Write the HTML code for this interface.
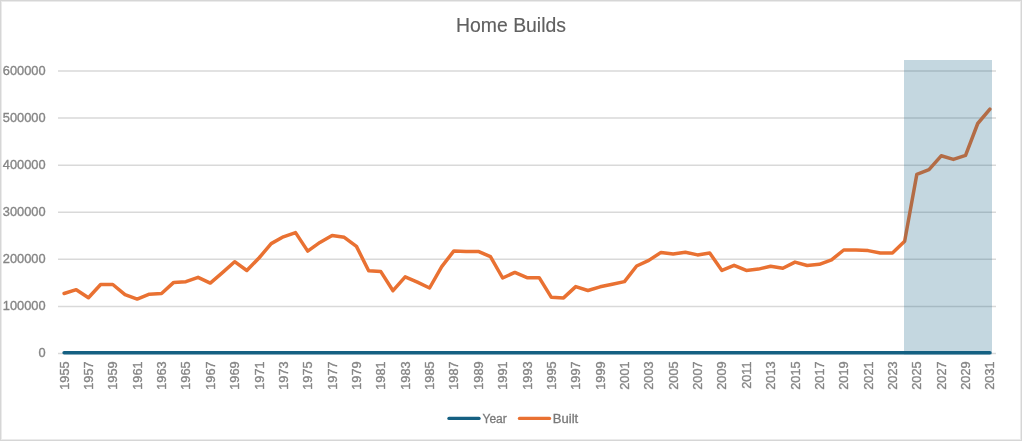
<!DOCTYPE html>
<html><head><meta charset="utf-8"><style>
html,body{margin:0;padding:0;background:#fff;}
body{width:1022px;height:441px;overflow:hidden;position:relative;font-family:"Liberation Sans",sans-serif;}
svg{position:absolute;left:0;top:0;will-change:transform;}
</style></head><body>
<svg width="1022" height="441" viewBox="0 0 1022 441">
<rect x="0" y="0" width="1022" height="441" fill="#fff"/>

<rect x="0.5" y="0.5" width="1021" height="440" fill="none" stroke="#D6D6D6" stroke-width="1"/>
<rect x="1.5" y="1.5" width="1019" height="438" fill="none" stroke="#EBEBEB" stroke-width="1"/>
<text x="511" y="32.4" text-anchor="middle" font-size="19.4" fill="#606060" stroke="#606060" stroke-width="0.15">Home Builds</text>
<line x1="58.0" x2="996.0" y1="353.5" y2="353.5" stroke="#D9D9D9" stroke-width="1.5"/>
<text x="45.5" y="357.2" text-anchor="end" font-size="12.8" fill="#858585" stroke="#858585" stroke-width="0.35">0</text>
<line x1="58.0" x2="996.0" y1="306.4166666666667" y2="306.4166666666667" stroke="#D9D9D9" stroke-width="1.5"/>
<text x="45.5" y="310.1" text-anchor="end" font-size="12.8" fill="#858585" stroke="#858585" stroke-width="0.35">100000</text>
<line x1="58.0" x2="996.0" y1="259.3333333333333" y2="259.3333333333333" stroke="#D9D9D9" stroke-width="1.5"/>
<text x="45.5" y="263.0" text-anchor="end" font-size="12.8" fill="#858585" stroke="#858585" stroke-width="0.35">200000</text>
<line x1="58.0" x2="996.0" y1="212.25" y2="212.25" stroke="#D9D9D9" stroke-width="1.5"/>
<text x="45.5" y="215.9" text-anchor="end" font-size="12.8" fill="#858585" stroke="#858585" stroke-width="0.35">300000</text>
<line x1="58.0" x2="996.0" y1="165.16666666666666" y2="165.16666666666666" stroke="#D9D9D9" stroke-width="1.5"/>
<text x="45.5" y="168.9" text-anchor="end" font-size="12.8" fill="#858585" stroke="#858585" stroke-width="0.35">400000</text>
<line x1="58.0" x2="996.0" y1="118.08333333333331" y2="118.08333333333331" stroke="#D9D9D9" stroke-width="1.5"/>
<text x="45.5" y="121.8" text-anchor="end" font-size="12.8" fill="#858585" stroke="#858585" stroke-width="0.35">500000</text>
<line x1="58.0" x2="996.0" y1="71.0" y2="71.0" stroke="#D9D9D9" stroke-width="1.5"/>
<text x="45.5" y="74.7" text-anchor="end" font-size="12.8" fill="#858585" stroke="#858585" stroke-width="0.35">600000</text>
<text transform="translate(68.59,361.5) rotate(-90)" text-anchor="end" font-size="12.7" fill="#858585" stroke="#858585" stroke-width="0.35">1955</text>
<text transform="translate(92.95,361.5) rotate(-90)" text-anchor="end" font-size="12.7" fill="#858585" stroke="#858585" stroke-width="0.35">1957</text>
<text transform="translate(117.32,361.5) rotate(-90)" text-anchor="end" font-size="12.7" fill="#858585" stroke="#858585" stroke-width="0.35">1959</text>
<text transform="translate(141.68,361.5) rotate(-90)" text-anchor="end" font-size="12.7" fill="#858585" stroke="#858585" stroke-width="0.35">1961</text>
<text transform="translate(166.05,361.5) rotate(-90)" text-anchor="end" font-size="12.7" fill="#858585" stroke="#858585" stroke-width="0.35">1963</text>
<text transform="translate(190.41,361.5) rotate(-90)" text-anchor="end" font-size="12.7" fill="#858585" stroke="#858585" stroke-width="0.35">1965</text>
<text transform="translate(214.77,361.5) rotate(-90)" text-anchor="end" font-size="12.7" fill="#858585" stroke="#858585" stroke-width="0.35">1967</text>
<text transform="translate(239.14,361.5) rotate(-90)" text-anchor="end" font-size="12.7" fill="#858585" stroke="#858585" stroke-width="0.35">1969</text>
<text transform="translate(263.50,361.5) rotate(-90)" text-anchor="end" font-size="12.7" fill="#858585" stroke="#858585" stroke-width="0.35">1971</text>
<text transform="translate(287.86,361.5) rotate(-90)" text-anchor="end" font-size="12.7" fill="#858585" stroke="#858585" stroke-width="0.35">1973</text>
<text transform="translate(312.23,361.5) rotate(-90)" text-anchor="end" font-size="12.7" fill="#858585" stroke="#858585" stroke-width="0.35">1975</text>
<text transform="translate(336.59,361.5) rotate(-90)" text-anchor="end" font-size="12.7" fill="#858585" stroke="#858585" stroke-width="0.35">1977</text>
<text transform="translate(360.95,361.5) rotate(-90)" text-anchor="end" font-size="12.7" fill="#858585" stroke="#858585" stroke-width="0.35">1979</text>
<text transform="translate(385.32,361.5) rotate(-90)" text-anchor="end" font-size="12.7" fill="#858585" stroke="#858585" stroke-width="0.35">1981</text>
<text transform="translate(409.68,361.5) rotate(-90)" text-anchor="end" font-size="12.7" fill="#858585" stroke="#858585" stroke-width="0.35">1983</text>
<text transform="translate(434.05,361.5) rotate(-90)" text-anchor="end" font-size="12.7" fill="#858585" stroke="#858585" stroke-width="0.35">1985</text>
<text transform="translate(458.41,361.5) rotate(-90)" text-anchor="end" font-size="12.7" fill="#858585" stroke="#858585" stroke-width="0.35">1987</text>
<text transform="translate(482.77,361.5) rotate(-90)" text-anchor="end" font-size="12.7" fill="#858585" stroke="#858585" stroke-width="0.35">1989</text>
<text transform="translate(507.14,361.5) rotate(-90)" text-anchor="end" font-size="12.7" fill="#858585" stroke="#858585" stroke-width="0.35">1991</text>
<text transform="translate(531.50,361.5) rotate(-90)" text-anchor="end" font-size="12.7" fill="#858585" stroke="#858585" stroke-width="0.35">1993</text>
<text transform="translate(555.86,361.5) rotate(-90)" text-anchor="end" font-size="12.7" fill="#858585" stroke="#858585" stroke-width="0.35">1995</text>
<text transform="translate(580.23,361.5) rotate(-90)" text-anchor="end" font-size="12.7" fill="#858585" stroke="#858585" stroke-width="0.35">1997</text>
<text transform="translate(604.59,361.5) rotate(-90)" text-anchor="end" font-size="12.7" fill="#858585" stroke="#858585" stroke-width="0.35">1999</text>
<text transform="translate(628.95,361.5) rotate(-90)" text-anchor="end" font-size="12.7" fill="#858585" stroke="#858585" stroke-width="0.35">2001</text>
<text transform="translate(653.32,361.5) rotate(-90)" text-anchor="end" font-size="12.7" fill="#858585" stroke="#858585" stroke-width="0.35">2003</text>
<text transform="translate(677.68,361.5) rotate(-90)" text-anchor="end" font-size="12.7" fill="#858585" stroke="#858585" stroke-width="0.35">2005</text>
<text transform="translate(702.05,361.5) rotate(-90)" text-anchor="end" font-size="12.7" fill="#858585" stroke="#858585" stroke-width="0.35">2007</text>
<text transform="translate(726.41,361.5) rotate(-90)" text-anchor="end" font-size="12.7" fill="#858585" stroke="#858585" stroke-width="0.35">2009</text>
<text transform="translate(750.77,361.5) rotate(-90)" text-anchor="end" font-size="12.7" fill="#858585" stroke="#858585" stroke-width="0.35">2011</text>
<text transform="translate(775.14,361.5) rotate(-90)" text-anchor="end" font-size="12.7" fill="#858585" stroke="#858585" stroke-width="0.35">2013</text>
<text transform="translate(799.50,361.5) rotate(-90)" text-anchor="end" font-size="12.7" fill="#858585" stroke="#858585" stroke-width="0.35">2015</text>
<text transform="translate(823.86,361.5) rotate(-90)" text-anchor="end" font-size="12.7" fill="#858585" stroke="#858585" stroke-width="0.35">2017</text>
<text transform="translate(848.23,361.5) rotate(-90)" text-anchor="end" font-size="12.7" fill="#858585" stroke="#858585" stroke-width="0.35">2019</text>
<text transform="translate(872.59,361.5) rotate(-90)" text-anchor="end" font-size="12.7" fill="#858585" stroke="#858585" stroke-width="0.35">2021</text>
<text transform="translate(896.95,361.5) rotate(-90)" text-anchor="end" font-size="12.7" fill="#858585" stroke="#858585" stroke-width="0.35">2023</text>
<text transform="translate(921.32,361.5) rotate(-90)" text-anchor="end" font-size="12.7" fill="#858585" stroke="#858585" stroke-width="0.35">2025</text>
<text transform="translate(945.68,361.5) rotate(-90)" text-anchor="end" font-size="12.7" fill="#858585" stroke="#858585" stroke-width="0.35">2027</text>
<text transform="translate(970.05,361.5) rotate(-90)" text-anchor="end" font-size="12.7" fill="#858585" stroke="#858585" stroke-width="0.35">2029</text>
<text transform="translate(994.41,361.5) rotate(-90)" text-anchor="end" font-size="12.7" fill="#858585" stroke="#858585" stroke-width="0.35">2031</text>
<polyline points="64.09,352.75 76.27,352.75 88.45,352.75 100.64,352.75 112.82,352.75 125.00,352.75 137.18,352.75 149.36,352.75 161.55,352.74 173.73,352.74 185.91,352.74 198.09,352.74 210.27,352.74 222.45,352.74 234.64,352.74 246.82,352.74 259.00,352.74 271.18,352.74 283.36,352.74 295.55,352.74 307.73,352.74 319.91,352.74 332.09,352.74 344.27,352.73 356.45,352.73 368.64,352.73 380.82,352.73 393.00,352.73 405.18,352.73 417.36,352.73 429.55,352.73 441.73,352.73 453.91,352.73 466.09,352.73 478.27,352.73 490.45,352.73 502.64,352.73 514.82,352.73 527.00,352.73 539.18,352.72 551.36,352.72 563.55,352.72 575.73,352.72 587.91,352.72 600.09,352.72 612.27,352.72 624.45,352.72 636.64,352.72 648.82,352.72 661.00,352.72 673.18,352.72 685.36,352.72 697.55,352.72 709.73,352.72 721.91,352.71 734.09,352.71 746.27,352.71 758.45,352.71 770.64,352.71 782.82,352.71 795.00,352.71 807.18,352.71 819.36,352.71 831.55,352.71 843.73,352.71 855.91,352.71 868.09,352.71 880.27,352.71 892.45,352.71 904.64,352.70 916.82,352.70 929.00,352.70 941.18,352.70 953.36,352.70 965.55,352.70 977.73,352.70 989.91,352.70" fill="none" stroke="#156082" stroke-width="3.5" stroke-linejoin="round" stroke-linecap="round"/>
<polyline points="64.09,293.50 76.27,289.70 88.45,297.70 100.64,284.50 112.82,284.50 125.00,294.60 137.18,299.10 149.36,294.20 161.55,293.50 173.73,282.40 185.91,281.70 198.09,277.30 210.27,283.10 222.45,272.60 234.64,261.70 246.82,270.50 259.00,258.00 271.18,243.60 283.36,236.80 295.55,232.60 307.73,251.10 319.91,242.40 332.09,235.40 344.27,237.30 356.45,246.40 368.64,270.80 380.82,271.60 393.00,290.70 405.18,276.90 417.36,282.20 429.55,288.00 441.73,266.60 453.91,250.90 466.09,251.40 478.27,251.40 490.45,256.70 502.64,278.00 514.82,272.40 527.00,277.70 539.18,277.70 551.36,297.30 563.55,297.90 575.73,286.60 587.91,290.50 600.09,286.80 612.27,284.30 624.45,281.60 636.64,266.00 648.82,260.40 661.00,252.40 673.18,254.10 685.36,252.20 697.55,254.90 709.73,253.00 721.91,270.40 734.09,265.30 746.27,270.40 758.45,269.10 770.64,266.30 782.82,268.30 795.00,262.10 807.18,265.50 819.36,264.30 831.55,259.80 843.73,250.00 855.91,250.10 868.09,250.60 880.27,253.00 892.45,253.00 904.64,241.30 916.82,174.40 929.00,169.70 941.18,155.80 953.36,159.40 965.55,155.30 977.73,123.50 989.91,109.10" fill="none" stroke="#E97132" stroke-width="3.5" stroke-linejoin="round" stroke-linecap="round"/>
<rect x="904" y="60" width="88" height="294.5" fill="#156082" fill-opacity="0.25"/>
<line x1="449" x2="479" y1="418.4" y2="418.4" stroke="#156082" stroke-width="3.4" stroke-linecap="round"/>
<text x="482.5" y="422.8" font-size="12" fill="#7A7A7A" stroke="#7A7A7A" stroke-width="0.3">Year</text>
<line x1="519.5" x2="549.5" y1="418.4" y2="418.4" stroke="#E97132" stroke-width="3.4" stroke-linecap="round"/>
<text x="552.8" y="422.8" font-size="12" fill="#7A7A7A" stroke="#7A7A7A" stroke-width="0.3" textLength="25.4" lengthAdjust="spacingAndGlyphs">Built</text>
</svg></body></html>
